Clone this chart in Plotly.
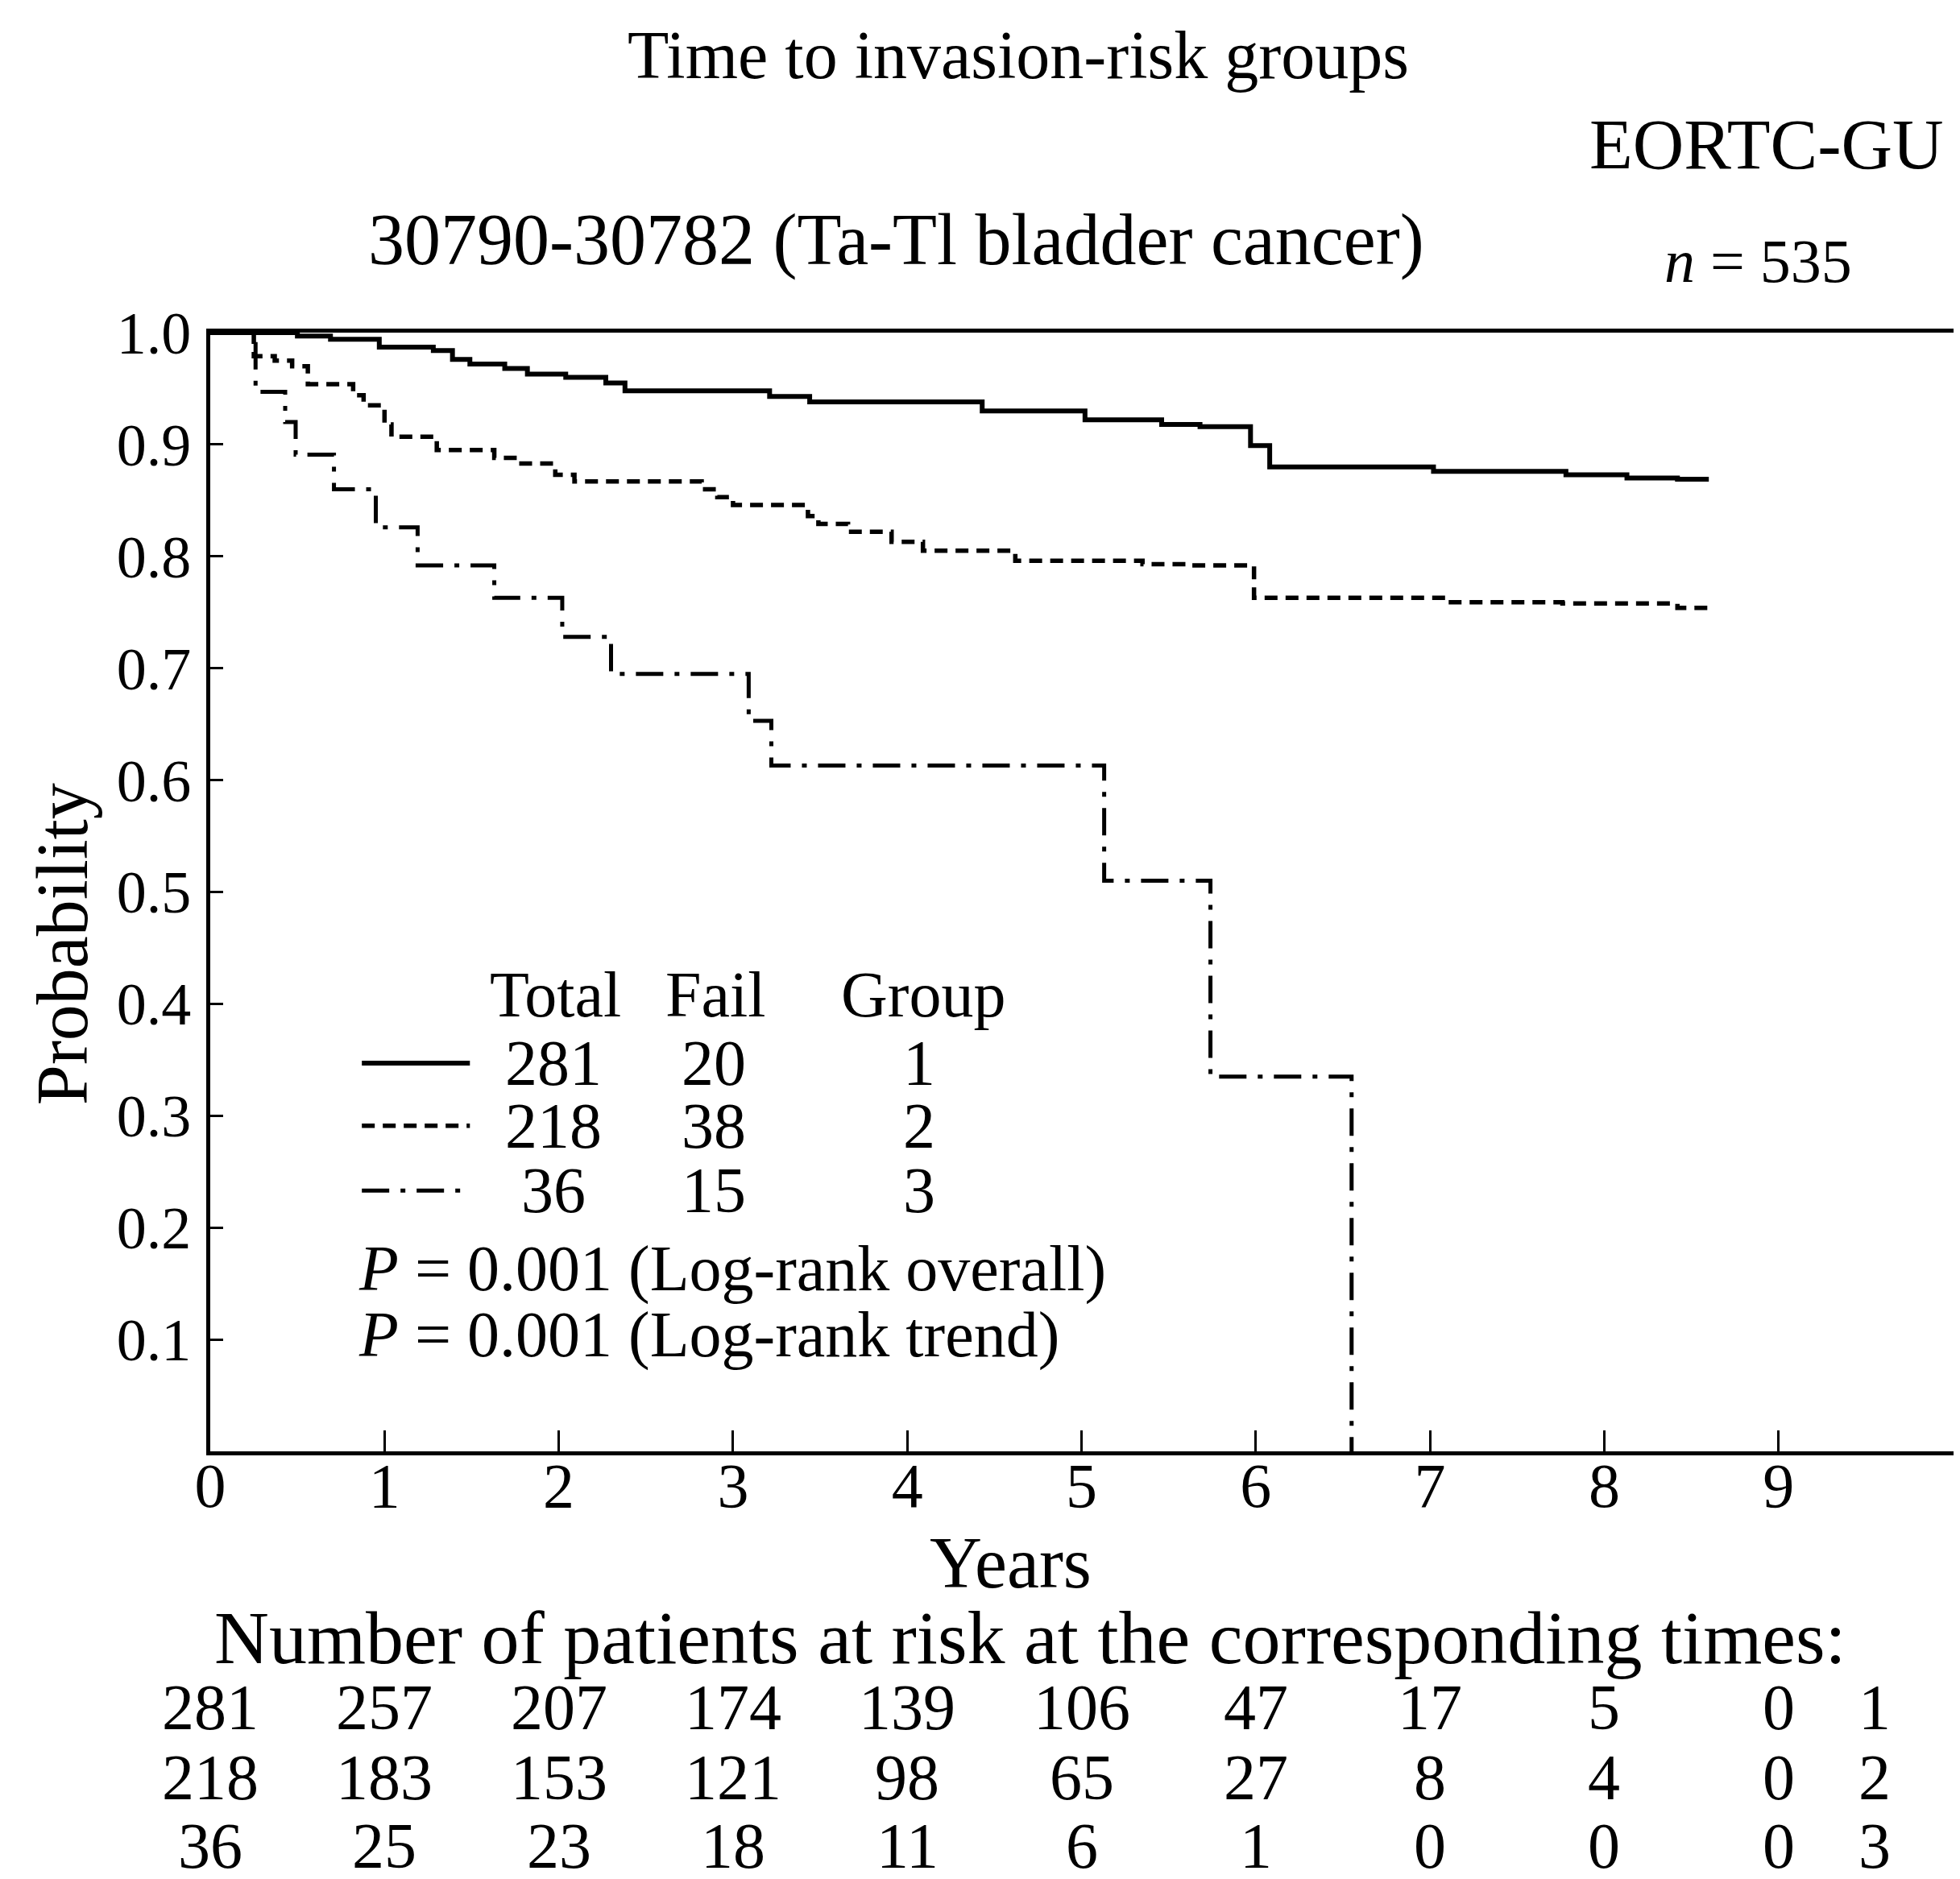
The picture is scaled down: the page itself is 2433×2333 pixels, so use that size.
import plotly.graph_objects as go

# ---------------- data ----------------
t_group1 = [0, 0.50, 0.69, 0.97, 1.28, 1.39, 1.49, 1.69, 1.82, 2.04, 2.27, 2.38, 3.21, 3.44,
            4.43, 5.02, 5.46, 5.68, 5.97, 6.08, 7.02, 7.78, 8.13, 8.42, 8.60]
s_group1 = [1.0, 0.997, 0.994, 0.987, 0.984, 0.976, 0.972, 0.968, 0.963, 0.960, 0.955, 0.948,
            0.943, 0.938, 0.930, 0.922, 0.918, 0.916, 0.899, 0.880, 0.876, 0.873, 0.870, 0.869, 0.869]

t_group2 = [0, 0.25, 0.37, 0.47, 0.56, 0.82, 0.88, 1.00, 1.04, 1.30, 1.63, 1.76, 1.98, 2.09,
            2.82, 2.91, 3.00, 3.43, 3.49, 3.66, 3.91, 4.09, 4.62, 5.35, 5.63, 5.99, 7.09, 7.76,
            8.42, 8.60]
s_group2 = [1.0, 0.979, 0.975, 0.970, 0.954, 0.944, 0.935, 0.918, 0.907, 0.895, 0.888, 0.883,
            0.873, 0.867, 0.860, 0.853, 0.846, 0.836, 0.829, 0.822, 0.813, 0.805, 0.796, 0.793,
            0.792, 0.763, 0.759, 0.758, 0.754, 0.753]

t_group3 = [0, 0.26, 0.43, 0.49, 0.71, 0.95, 1.19, 1.63, 2.02, 2.30, 3.09, 3.22, 5.13, 5.74, 6.55]
s_group3 = [1.0, 0.947, 0.920, 0.891, 0.860, 0.826, 0.792, 0.763, 0.728, 0.695, 0.653, 0.613,
            0.510, 0.335, 0.0]

group_names = ["1", "2", "3"]
group_total = [281, 218, 36]
group_fail = [20, 38, 15]

risk_times = [0, 1, 2, 3, 4, 5, 6, 7, 8, 9]
risk_group1 = [281, 257, 207, 174, 139, 106, 47, 17, 5, 0]
risk_group2 = [218, 183, 153, 121, 98, 65, 27, 8, 4, 0]
risk_group3 = [36, 25, 23, 18, 11, 6, 1, 0, 0, 0]

x_ticks = [0, 1, 2, 3, 4, 5, 6, 7, 8, 9]
y_ticks = [0.1, 0.2, 0.3, 0.4, 0.5, 0.6, 0.7, 0.8, 0.9, 1.0]

# ---------------- styling ----------------
FONT = "Liberation Serif, Times New Roman, serif"
BLACK = "#000000"
dashes = ["solid", "16px,10px", "34px,14px,6px,14px"]
widths = [6, 5.5, 5]

fig = go.Figure()
for t, s, d, w in zip([t_group1, t_group2, t_group3], [s_group1, s_group2, s_group3], dashes, widths):
    fig.add_trace(go.Scatter(x=t, y=s, mode="lines", line=dict(shape="hv", color=BLACK, width=w, dash=d),
                             hoverinfo="skip", showlegend=False))

ann = []
def text(x, y, s, size, xref="paper", yref="paper", xanchor="center", yanchor="middle", angle=0):
    ann.append(dict(x=x, y=y, xref=xref, yref=yref, text=s, showarrow=False, xanchor=xanchor,
                    yanchor=yanchor, textangle=angle, font=dict(family=FONT, size=size, color=BLACK)))

# titles
text(0.461, 1.248, "Time to invasion-risk groups", 84)
text(0.786, 1.168, "EORTC-GU", 88, xanchor="left")
text(0.3915, 1.083, "30790-30782 (Ta-Tl bladder cancer)", 90)
text(0.8286, 1.064, "<i>n</i> = 535", 76, xanchor="left")
text(-0.084, 0.4536, "Probability", 90, angle=-90)
text(0.4564, -0.0994, "Years", 90)
text(0.468, -0.1663, "Number of patients at risk at the corresponding times:", 94)

# in-plot legend table
legend_y = [0.347, 0.291, 0.233]
text(1.98, 0.408, "Total", 80, xref="x", yref="y")
text(2.90, 0.408, "Fail", 80, xref="x", yref="y")
text(4.09, 0.408, "Group", 80, xref="x", yref="y")
shapes = []
for i in range(3):
    text(1.97, legend_y[i], str(group_total[i]), 80, xref="x", yref="y")
    text(2.89, legend_y[i], str(group_fail[i]), 80, xref="x", yref="y")
    text(4.07, legend_y[i], group_names[i], 80, xref="x", yref="y")
    shapes.append(dict(type="line", xref="x", yref="y", x0=0.87, x1=1.49, y0=legend_y[i], y1=legend_y[i],
                       line=dict(color=BLACK, width=widths[i], dash=dashes[i])))
text(0.84, 0.163, "<i>P</i> = 0.001 (Log-rank overall)", 80, xref="x", yref="y", xanchor="left")
text(0.84, 0.104, "<i>P</i> = 0.001 (Log-rank trend)", 80, xref="x", yref="y", xanchor="left")

# number at risk table
risk_rows_y = [-0.2291, -0.2918, -0.353]
for row, vals in enumerate([risk_group1, risk_group2, risk_group3]):
    for t, v in zip(risk_times, vals):
        text(t, risk_rows_y[row], str(v), 80, xref="x")
    text(9.55, risk_rows_y[row], group_names[row], 80, xref="x")

fig.update_layout(
    width=2433, height=2333,
    margin=dict(l=253, r=4, t=405, b=539),
    paper_bgcolor="white", plot_bgcolor="white",
    showlegend=False,
    annotations=ann, shapes=shapes,
    xaxis=dict(range=[0, 10.06], tickvals=x_ticks, ticktext=[str(v) for v in x_ticks],
               ticks="inside", ticklen=26, tickwidth=3, tickcolor=BLACK,
               showline=True, linewidth=5, linecolor=BLACK, mirror=True,
               showgrid=False, zeroline=False, ticklabelstandoff=-30,
               tickfont=dict(family=FONT, size=78, color=BLACK)),
    yaxis=dict(range=[0, 1.0], tickvals=y_ticks, ticktext=[f"{v:.1f}" for v in y_ticks],
               ticks="inside", ticklen=16, tickwidth=3, tickcolor=BLACK,
               showline=True, linewidth=5, linecolor=BLACK,
               showgrid=False, zeroline=False, ticklabelstandoff=4,
               tickfont=dict(family=FONT, size=74, color=BLACK)),
)

fig.write_html("out.html")
